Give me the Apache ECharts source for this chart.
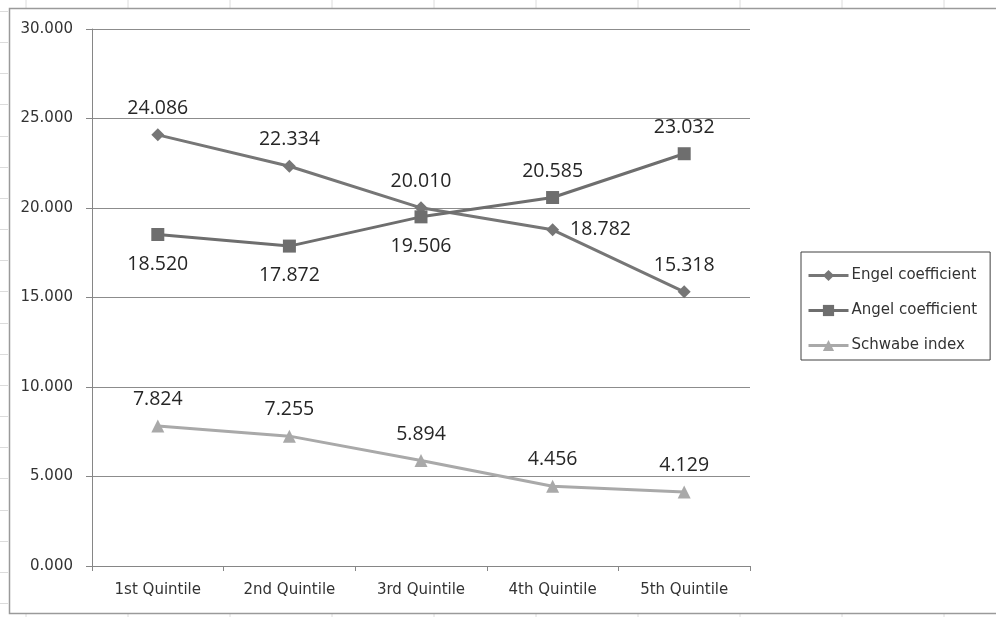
<!DOCTYPE html>
<html>
<head>
<meta charset="utf-8">
<script src="https://cdn.jsdelivr.net/npm/echarts@6/dist/echarts.min.js"></script>
<style>html,body{margin:0;padding:0;background:#fff}#c{width:996px;height:617px}</style>
</head>
<body>
<div id="c"></div>
<script>
const categories = ['1st Quintile', '2nd Quintile', '3rd Quintile', '4th Quintile', '5th Quintile'];
const engel = [24.086, 22.334, 20.010, 18.782, 15.318];
const angel = [18.520, 17.872, 19.506, 20.585, 23.032];
const schwabe = [7.824, 7.255, 5.894, 4.456, 4.129];
const engelLabelPos = ['top', 'top', 'top', 'right', 'top'];
const angelLabelPos = ['bottom', 'bottom', 'bottom', 'top', 'top'];
const schwabeLabelPos = ['top', 'top', 'top', 'top', 'top'];

const chart = echarts.init(document.getElementById('c'), null, {renderer: 'canvas'});
const FONT = 'DejaVu Sans';
const LABFONT = 'Open Sans';
const TXT = '#333333';

function mkData(vals, pos) {
  return vals.map((v, i) => ({
    value: v,
    label: {position: pos[i], distance: pos[i] === 'bottom' ? 13 : (pos[i] === 'right' ? 11 : 10)}
  }));
}

// decorative spreadsheet cell lines around the chart
const deco = [];
const cellColor = '#dcdcdc';
for (let k = 0; k < 10; k++) {
  const x = 26 + 102 * k;
  deco.push({type: 'line', silent: true, shape: {x1: x, y1: 0, x2: x, y2: 8}, style: {stroke: cellColor, lineWidth: 1}});
  deco.push({type: 'line', silent: true, shape: {x1: x, y1: 613, x2: x, y2: 617}, style: {stroke: cellColor, lineWidth: 1}});
}
for (let k = -1; k < 19; k++) {
  const y = Math.round(42 + 31.17 * k) + 0.5;
  deco.push({type: 'line', silent: true, shape: {x1: 0, y1: y, x2: 8, y2: y}, style: {stroke: cellColor, lineWidth: 1}});
}
deco.push({type: 'polyline', silent: true, shape: {points: [[1000, 8.5], [9.5, 8.5], [9.5, 613.5], [1000, 613.5]]}, style: {stroke: '#9a9a9a', lineWidth: 1.5, fill: null}});

const labelCommon = {show: true, fontFamily: LABFONT, fontSize: 19.5, color: '#262626', formatter: p => p.value.toFixed(3)};

chart.setOption({
  animation: false,
  backgroundColor: '#fff',
  graphic: deco,
  grid: {left: 92, top: 29, right: 246, bottom: 51, containLabel: false},
  legend: {
    orient: 'vertical',
    left: 801, top: 252,
    padding: [16, 13, 7, 6],
    itemGap: 20,
    itemWidth: 40,
    itemHeight: 14,
    borderColor: '#404040',
    borderWidth: 1,
    lineStyle: {width: 3},
    textStyle: {fontFamily: FONT, fontSize: 15, color: TXT, padding: [0, 0, 0, -2]},
    data: ['Engel coefficient', 'Angel coefficient', 'Schwabe index']
  },
  xAxis: {
    type: 'category',
    data: categories,
    boundaryGap: true,
    axisLine: {lineStyle: {color: '#868686', width: 1}},
    axisTick: {show: true, length: 5, lineStyle: {color: '#868686'}},
    axisLabel: {fontFamily: FONT, fontSize: 15, color: TXT, margin: 17}
  },
  yAxis: {
    type: 'value',
    min: 0, max: 30, interval: 5,
    axisLine: {show: true, lineStyle: {color: '#868686', width: 1}},
    axisTick: {show: true, length: 6, lineStyle: {color: '#868686'}},
    axisLabel: {fontFamily: FONT, fontSize: 15, color: TXT, margin: 19, formatter: v => v.toFixed(3)},
    splitLine: {show: true, lineStyle: {color: '#8c8c8c', width: 1}}
  },
  series: [
    {
      name: 'Engel coefficient', type: 'line', data: mkData(engel, engelLabelPos),
      symbol: 'diamond', symbolSize: 13,
      lineStyle: {color: '#767676', width: 3}, itemStyle: {color: '#767676'},
      label: labelCommon, z: 3
    },
    {
      name: 'Angel coefficient', type: 'line', data: mkData(angel, angelLabelPos),
      symbol: 'rect', symbolSize: 13,
      lineStyle: {color: '#6e6e6e', width: 3}, itemStyle: {color: '#6e6e6e'},
      label: labelCommon, z: 4
    },
    {
      name: 'Schwabe index', type: 'line', data: mkData(schwabe, schwabeLabelPos),
      symbol: 'triangle', symbolSize: 13,
      lineStyle: {color: '#a9a9a9', width: 3}, itemStyle: {color: '#a9a9a9'},
      label: labelCommon, z: 2
    }
  ]
});
</script>
</body>
</html>
